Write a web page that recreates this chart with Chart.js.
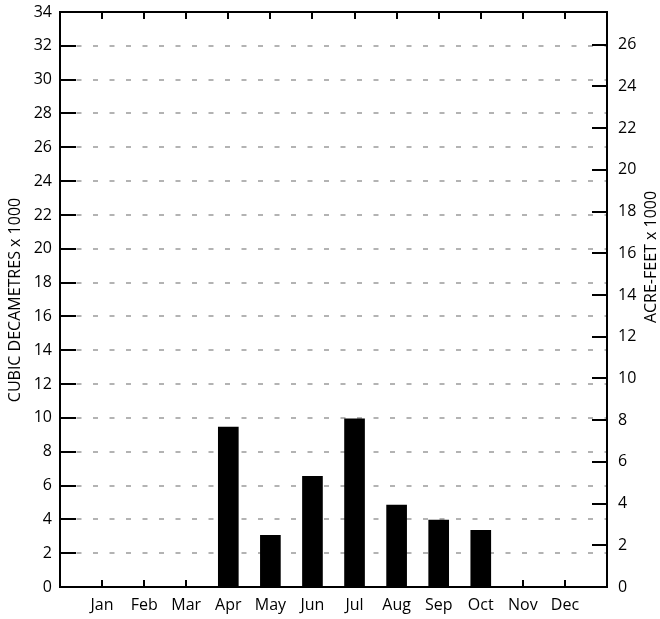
<!DOCTYPE html>
<html>
<head>
<meta charset="utf-8">
<script src="https://cdn.jsdelivr.net/npm/chart.js@4"></script>
<style>
html,body{margin:0;padding:0;background:#fff;}
#wrap{width:660px;height:619px;position:relative;}
</style>
</head>
<body>
<div id="wrap"><canvas id="c" width="660" height="619"></canvas></div>
<script>
const months = ['Jan','Feb','Mar','Apr','May','Jun','Jul','Aug','Sep','Oct','Nov','Dec'];
const volumeDam3 = [0, 0, 0, 9.45, 3.05, 6.55, 9.95, 4.85, 3.95, 3.35, 0, 0];
const leftMax = 34;
const acreFtFactor = 1.2335;
const leftTitle = 'CUBIC DECAMETRES x 1000';
const rightTitle = 'ACRE-FEET x 1000';

const FONT = '"Open Sans", "DejaVu Sans", sans-serif';
const FS = 16;

const framePlugin = {
  id: 'frame',
  afterDraw(chart) {
    const {ctx, chartArea: a, scales} = chart;
    ctx.save();
    ctx.strokeStyle = '#000';
    ctx.lineWidth = 2;
    ctx.lineCap = 'butt';
    ctx.beginPath();
    scales.y.ticks.forEach(t => {
      const p = Math.round(scales.y.getPixelForValue(t.value));
      ctx.moveTo(a.left, p); ctx.lineTo(a.left + 16, p);
    });
    scales.y2.ticks.forEach(t => {
      if (Math.abs(t.value % 2) > 1e-6) return;
      const p = Math.round(scales.y2.getPixelForValue(t.value));
      ctx.moveTo(a.right - 15, p); ctx.lineTo(a.right, p);
    });
    for (let i = 1; i <= months.length; i++) {
      const p = Math.round(scales.x.getPixelForValue(i));
      ctx.moveTo(p, a.bottom); ctx.lineTo(p, a.bottom - 7);
      ctx.moveTo(p, a.top); ctx.lineTo(p, a.top + 7);
    }
    ctx.stroke();
    ctx.strokeRect(a.left, a.top, a.right - a.left, a.bottom - a.top);
    ctx.fillStyle = '#000';
    ctx.font = FS + 'px ' + FONT;
    ctx.textAlign = 'center';
    ctx.textBaseline = 'middle';
    ctx.save();
    ctx.translate(15, 300);
    ctx.rotate(-Math.PI / 2);
    ctx.fillText(leftTitle, 0, 0);
    ctx.restore();
    ctx.save();
    ctx.translate(651, 257);
    ctx.rotate(-Math.PI / 2);
    ctx.fillText(rightTitle, 0, 0);
    ctx.restore();
    ctx.restore();
  }
};

function noPad(s) { s.paddingTop = 0; s.paddingBottom = 0; }

new Chart(document.getElementById('c'), {
  type: 'bar',
  data: {
    datasets: [{
      data: volumeDam3.map((v, i) => ({x: i + 1, y: v})),
      backgroundColor: '#000',
      borderWidth: 0,
      barThickness: 20,
      yAxisID: 'y'
    }]
  },
  options: {
    responsive: false,
    animation: false,
    devicePixelRatio: 1,
    layout: {padding: {top: 12, left: 0, right: 0, bottom: 0}},
    plugins: {legend: {display: false}, tooltip: {enabled: false}},
    scales: {
      x: {
        type: 'linear',
        offset: false,
        min: 0, max: months.length + 1,
        afterFit(s) { s.height = 32; s.paddingLeft = 0; s.paddingRight = 0; },
        grid: {display: false, drawTicks: false},
        border: {display: false},
        ticks: {
          stepSize: 1, autoSkip: false, maxRotation: 0, padding: 9,
          color: '#000', font: {family: FONT, size: FS},
          callback: v => months[v - 1] || ''
        }
      },
      y: {
        position: 'left',
        min: 0, max: leftMax,
        afterFit(s) { s.width = 60; noPad(s); },
        grid: {color: '#b3b3b3', lineWidth: 2, drawTicks: false},
        border: {display: false, dash: [5, 11.5]},
        ticks: {stepSize: 2, padding: 8, color: '#000', font: {family: FONT, size: FS}}
      },
      y2: {
        position: 'right',
        min: 0, max: leftMax / acreFtFactor,
        afterFit(s) { s.width = 53; noPad(s); },
        grid: {display: false, drawTicks: false},
        border: {display: false},
        ticks: {
          stepSize: 2, padding: 11, color: '#000', font: {family: FONT, size: FS},
          callback: v => (Math.abs(v % 2) < 1e-6 ? v : '')
        }
      }
    }
  },
  plugins: [framePlugin]
});
</script>
</body>
</html>
